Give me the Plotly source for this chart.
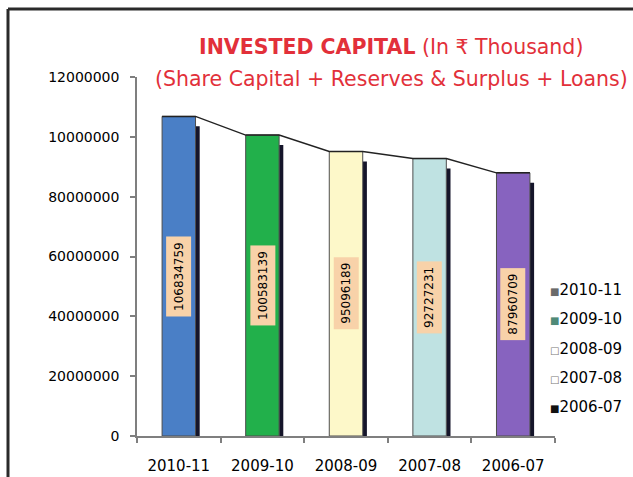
import plotly.graph_objects as go

# Invested capital by year (In ₹ Thousand)
years = ["2010-11", "2009-10", "2008-09", "2007-08", "2006-07"]
invested_capital = [106834759, 100583139, 95096189, 92727231, 87960709]
bar_colors = ["#4a7fc6", "#22b04b", "#fdf8c9", "#bfe2e2", "#8763bf"]

# Legend swatches as printed next to the chart
legend_labels = ["2010-11", "2009-10", "2008-09", "2007-08", "2006-07"]
legend_swatches = ["■", "■", "□", "□", "■"]
legend_swatch_colors = ["#6a6a6a", "#4f8a78", "#777777", "#777777", "#111111"]

# Axis tick labels
y_tick_values = [0, 20000000, 40000000, 60000000, 80000000, 100000000, 120000000]
y_tick_text = ["0", "20000000", "40000000", "60000000", "80000000", "10000000", "12000000"]

# Styling constants
BAR_WIDTH = 0.40
SIDE_WIDTH = 0.05
SIDE_DROP = 3.3e6          # side face starts a little below the column top
TITLE_RED = "#e2303a"
TEXT_FONT = "DejaVu Sans"
TITLE_FONT = "DejaVu Sans"

W, H = 633, 477
ML, MR, MT, MB = 137, 78, 77, 41
plot_w = W - ML - MR
plot_h = H - MT - MB


def px_to_paper_x(px):
    return (px - ML) / plot_w


def px_to_paper_y(py):
    return (H - MB - py) / plot_h


xs = list(range(len(years)))

fig = go.Figure()

# Dark side faces of the columns
fig.add_trace(go.Bar(
    x=[x + BAR_WIDTH / 2 + SIDE_WIDTH / 2 for x in xs],
    y=[v - SIDE_DROP for v in invested_capital],
    width=SIDE_WIDTH,
    marker=dict(color="#15152a", line=dict(width=0)),
    showlegend=False,
    hoverinfo="skip",
))

# Front faces of the columns
fig.add_trace(go.Bar(
    x=xs,
    y=invested_capital,
    width=BAR_WIDTH,
    marker=dict(color=bar_colors, line=dict(color="#4d4d4d", width=1)),
    showlegend=False,
))

# Line joining the column tops
line_x, line_y = [], []
for x, v in zip(xs, invested_capital):
    line_x += [x - BAR_WIDTH / 2, x + BAR_WIDTH / 2]
    line_y += [v, v]
fig.add_trace(go.Scatter(
    x=line_x, y=line_y, mode="lines",
    line=dict(color="#222222", width=1.5),
    showlegend=False, hoverinfo="skip",
))

annotations = []

# Value labels inside each column
for x, v in zip(xs, invested_capital):
    annotations.append(dict(
        x=x, y=v / 2, xref="x", yref="y",
        text=str(v), textangle=-90, showarrow=False,
        font=dict(family=TEXT_FONT, size=12, color="#000000"),
        bgcolor="#f8d2a9", borderpad=5,
    ))

# Two-line title
title_x = px_to_paper_x(391)
annotations.append(dict(
    x=title_x, y=px_to_paper_y(47), xref="paper", yref="paper",
    text="<b>INVESTED CAPITAL</b> (In ₹ Thousand)", showarrow=False,
    font=dict(family=TITLE_FONT, size=20.5, color=TITLE_RED),
    xanchor="center", yanchor="middle",
))
annotations.append(dict(
    x=title_x, y=px_to_paper_y(79), xref="paper", yref="paper",
    text="(Share Capital + Reserves &amp; Surplus + Loans)", showarrow=False,
    font=dict(family=TITLE_FONT, size=20.5, color=TITLE_RED),
    xanchor="center", yanchor="middle",
))

# Legend column on the right
legend_top = 290
legend_step = 29.3
for i, (lab, sw, col) in enumerate(zip(legend_labels, legend_swatches, legend_swatch_colors)):
    annotations.append(dict(
        x=px_to_paper_x(548), y=px_to_paper_y(legend_top + i * legend_step),
        xref="paper", yref="paper",
        text=f"<span style='color:{col};font-size:10px'>{sw}</span>{lab}",
        showarrow=False, xanchor="left", yanchor="middle",
        font=dict(family=TEXT_FONT, size=15, color="#000000"),
    ))

# Frame lines at the top and left edge of the graphic
frame_left = px_to_paper_x(8)
frame_top = px_to_paper_y(9)
shapes = [
    dict(type="line", xref="paper", yref="paper",
         x0=frame_left, x1=px_to_paper_x(W + 5), y0=frame_top, y1=frame_top,
         line=dict(color="#2a2a2a", width=3)),
    dict(type="line", xref="paper", yref="paper",
         x0=frame_left, x1=frame_left, y0=frame_top, y1=px_to_paper_y(H + 5),
         line=dict(color="#2a2a2a", width=3)),
]

fig.update_layout(
    template="none",
    width=W, height=H,
    margin=dict(l=ML, r=MR, t=MT, b=MB, pad=0, autoexpand=False),
    paper_bgcolor="white", plot_bgcolor="white",
    barmode="overlay",
    showlegend=False,
    annotations=annotations,
    shapes=shapes,
    xaxis=dict(
        automargin=False,
        range=[-0.5, len(years) - 0.5],
        tickmode="array", tickvals=xs, ticktext=years,
        ticks="", showgrid=False, zeroline=False,
        showline=True, linecolor="#7f7f7f", linewidth=1.5,
        tickfont=dict(family=TEXT_FONT, size=15, color="#000000"),
        ticklabelstandoff=15,
        minor=dict(tickmode="linear", tick0=-0.5, dtick=1, ticks="outside",
                   ticklen=5, tickcolor="#7f7f7f", tickwidth=1.5, showgrid=False),
        fixedrange=True,
    ),
    yaxis=dict(
        automargin=False,
        range=[0, 120000000],
        tickmode="array", tickvals=y_tick_values, ticktext=y_tick_text,
        ticks="outside", ticklen=5, tickcolor="#7f7f7f", tickwidth=1.5,
        showgrid=False, zeroline=False,
        showline=True, linecolor="#7f7f7f", linewidth=1.5,
        tickfont=dict(family=TEXT_FONT, size=14, color="#000000"),
        ticklabelstandoff=8,
        fixedrange=True,
    ),
)

fig.write_html("out.html", config={"displayModeBar": False})
